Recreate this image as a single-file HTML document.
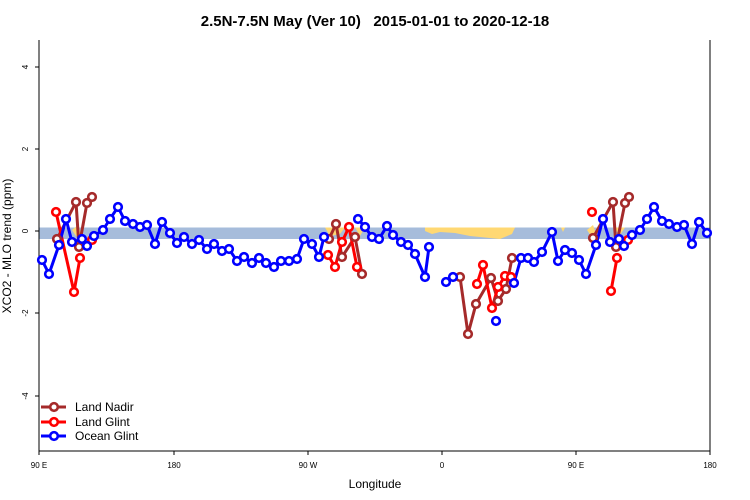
<!DOCTYPE html>
<html><head><meta charset="utf-8"><style>body{margin:0;background:#fff}svg{display:block}text{font-family:"Liberation Sans",sans-serif}</style></head><body>
<svg width="750" height="500" viewBox="0 0 750 500">
<text x="375" y="26" text-anchor="middle" font-size="15" font-weight="bold" style="white-space:pre">2.5N-7.5N May (Ver 10)   2015-01-01 to 2020-12-18</text>
<rect x="39" y="227.5" width="671" height="11.5" fill="#a6bcdb"/>
<g fill="#ffd873">
<path d="M425,227.5 L515,227.5 L512,234 L500,239 L470,236 L455,233 L440,232 L432,234 L425,231Z"/>
<path d="M72,230 L78,225 L82,236 L76,236Z"/><path d="M98,227.5 L104,227.5 L100,235Z"/>
<path d="M325,227.5 L345,227.5 L340,234 L330,236Z"/><path d="M355,227.5 L365,227.5 L360,236Z"/>
<path d="M587,230 L593,225 L597,236 L591,236Z"/><path d="M613,227.5 L625,227.5 L620,235Z"/>
<path d="M561,227.5 L565,227.5 L563,232Z"/>
</g>
<g fill="none" stroke="#000" stroke-width="1">
<path d="M39,40 V451 H710 V40"/>
<path d="M39,451v4M174,451v4M308,451v4M442,451v4M576,451v4M710,451v4"/>
<path d="M39,67h-4M39,149h-4M39,231h-4M39,313h-4M39,396h-4"/>
</g>
<g font-size="8" text-anchor="middle">
<text x="39" y="468">90 E</text><text x="174" y="468">180</text><text x="308" y="468">90 W</text><text x="442" y="468">0</text><text x="576" y="468">90 E</text><text x="710" y="468">180</text>
<text transform="translate(28,67) rotate(-90)">4</text><text transform="translate(28,149) rotate(-90)">2</text><text transform="translate(28,231) rotate(-90)">0</text><text transform="translate(28,313) rotate(-90)">-2</text><text transform="translate(28,396) rotate(-90)">-4</text>
</g>
<text x="375" y="488" text-anchor="middle" font-size="12">Longitude</text>
<text transform="translate(11,246) rotate(-90)" text-anchor="middle" font-size="12">XCO2 - MLO trend (ppm)</text>
<g fill="none" stroke-width="3" stroke-linejoin="round">
<g stroke="#a52a2a">
<polyline points="57,239 76,202 79,247 87,203 92,197"/>
<polyline points="329,239 336,224 342,257 355,237 362,274"/>
<polyline points="460,277 468,334 476,304 491,278 498,301 506,289 512,258"/>
<polyline points="593,238 613,202 616,247 625,203 629,197"/>
</g>
<g stroke="#ff0000">
<polyline points="56,212 74,292 80,258"/><polyline points="92,240 94,237"/>
<polyline points="328,255 335,267 342,242 349,227 357,267"/>
<polyline points="477,284 483,265 492,308 498,287 505,276 511,277"/>
<polyline points="611,291 617,258"/><polyline points="628,240 630,237"/>
</g>
<g stroke="#0000ff">
<polyline points="42,260 49,274 59,245 66,219 72,242 82,239 87,246 94,236 103,230 110,219 118,207 125,221 133,224 140,227 147,225 155,244 162,222 170,233 177,243 184,237 192,244 199,240 207,249 214,244 222,251 229,249 237,261 244,257 252,263 259,258 266,263 274,267 281,261 289,261 297,259 304,239 312,244 319,257 324,237"/>
<polyline points="358,219 365,227 372,237 379,239 387,226 393,235 401,242 408,245 415,254 425,277 429,247"/>
<polyline points="446,282 453,277"/>
<polyline points="514,283 521,258 528,258 534,262 542,252 552,232 558,261 565,250 572,253 579,260 586,274 596,245 603,219 610,242 619,239 624,246 632,235 640,230 647,219 654,207 662,221 669,224 677,227 684,225 692,244 699,222 707,233"/>
</g>
</g>
<g fill="#fff" stroke-width="2.6">
<g stroke="#a52a2a">
<circle cx="57" cy="239" r="3.8"/><circle cx="76" cy="202" r="3.8"/><circle cx="79" cy="247" r="3.8"/><circle cx="87" cy="203" r="3.8"/><circle cx="92" cy="197" r="3.8"/>
<circle cx="329" cy="239" r="3.8"/><circle cx="336" cy="224" r="3.8"/><circle cx="342" cy="257" r="3.8"/><circle cx="355" cy="237" r="3.8"/><circle cx="362" cy="274" r="3.8"/>
<circle cx="460" cy="277" r="3.8"/><circle cx="468" cy="334" r="3.8"/><circle cx="476" cy="304" r="3.8"/><circle cx="491" cy="278" r="3.8"/><circle cx="498" cy="301" r="3.8"/><circle cx="506" cy="289" r="3.8"/><circle cx="512" cy="258" r="3.8"/>
<circle cx="593" cy="238" r="3.8"/><circle cx="613" cy="202" r="3.8"/><circle cx="616" cy="247" r="3.8"/><circle cx="625" cy="203" r="3.8"/><circle cx="629" cy="197" r="3.8"/>
</g>
<g stroke="#ff0000">
<circle cx="56" cy="212" r="3.8"/><circle cx="74" cy="292" r="3.8"/><circle cx="80" cy="258" r="3.8"/><circle cx="92" cy="240" r="3.8"/>
<circle cx="328" cy="255" r="3.8"/><circle cx="335" cy="267" r="3.8"/><circle cx="342" cy="242" r="3.8"/><circle cx="349" cy="227" r="3.8"/><circle cx="357" cy="267" r="3.8"/>
<circle cx="477" cy="284" r="3.8"/><circle cx="483" cy="265" r="3.8"/><circle cx="492" cy="308" r="3.8"/><circle cx="498" cy="287" r="3.8"/><circle cx="505" cy="276" r="3.8"/><circle cx="511" cy="277" r="3.8"/>
<circle cx="592" cy="212" r="3.8"/><circle cx="611" cy="291" r="3.8"/><circle cx="617" cy="258" r="3.8"/><circle cx="628" cy="240" r="3.8"/>
</g>
<g stroke="#0000ff" id="oc"></g>
</g>
<g font-size="12">
<line x1="41" y1="407" x2="66" y2="407" stroke="#a52a2a" stroke-width="3"/><circle cx="54" cy="407" r="3.8" fill="#fff" stroke="#a52a2a" stroke-width="2.6"/><text x="75" y="411">Land Nadir</text>
<line x1="41" y1="422" x2="66" y2="422" stroke="#ff0000" stroke-width="3"/><circle cx="54" cy="422" r="3.8" fill="#fff" stroke="#ff0000" stroke-width="2.6"/><text x="75" y="426">Land Glint</text>
<line x1="41" y1="436" x2="66" y2="436" stroke="#0000ff" stroke-width="3"/><circle cx="54" cy="436" r="3.8" fill="#fff" stroke="#0000ff" stroke-width="2.6"/><text x="75" y="440">Ocean Glint</text>
</g>
</svg>
<script>
var pts="42,260 49,274 59,245 66,219 72,242 82,239 87,246 94,236 103,230 110,219 118,207 125,221 133,224 140,227 147,225 155,244 162,222 170,233 177,243 184,237 192,244 199,240 207,249 214,244 222,251 229,249 237,261 244,257 252,263 259,258 266,263 274,267 281,261 289,261 297,259 304,239 312,244 319,257 324,237 358,219 365,227 372,237 379,239 387,226 393,235 401,242 408,245 415,254 425,277 429,247 446,282 453,277 496,321 514,283 521,258 528,258 534,262 542,252 552,232 558,261 565,250 572,253 579,260 586,274 596,245 603,219 610,242 619,239 624,246 632,235 640,230 647,219 654,207 662,221 669,224 677,227 684,225 692,244 699,222 707,233".split(" ");
var g=document.getElementById("oc"),s="";
pts.forEach(function(p){var a=p.split(",");s+='<circle cx="'+a[0]+'" cy="'+a[1]+'" r="3.8"/>';});
g.innerHTML=s;
</script>
</body></html>
